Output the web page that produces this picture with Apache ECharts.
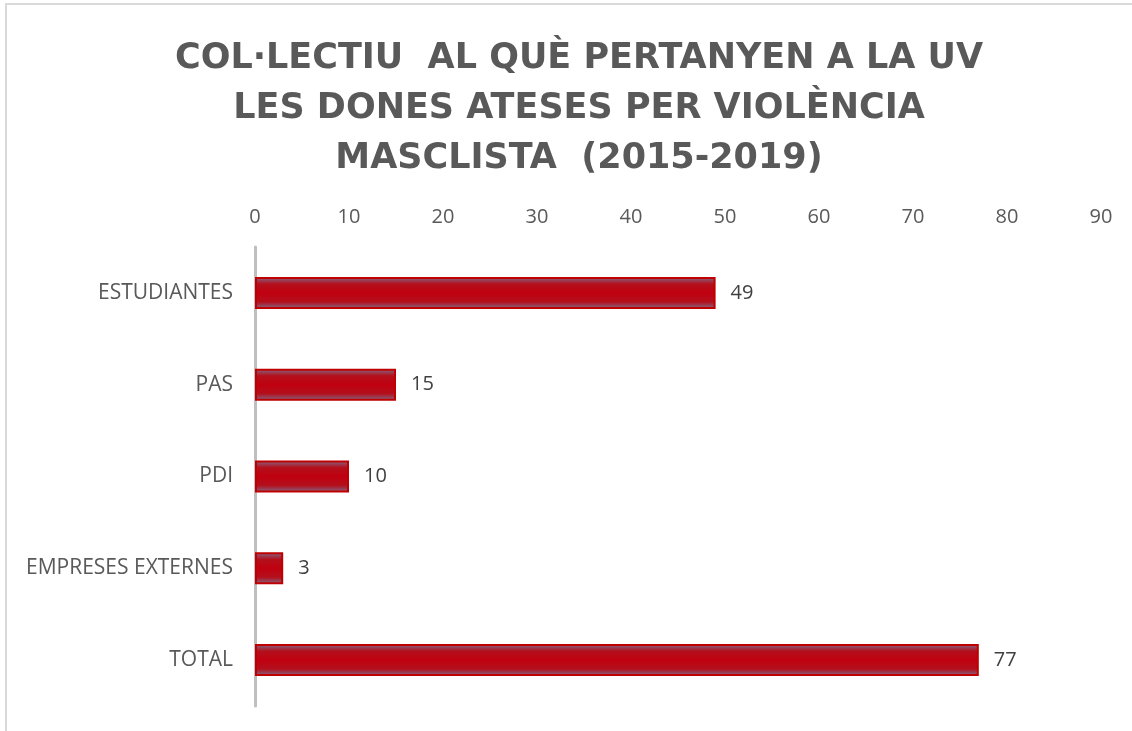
<!DOCTYPE html>
<html>
<head>
<meta charset="utf-8">
<script src="https://cdn.jsdelivr.net/npm/echarts@6/dist/echarts.min.js"></script>
<style>
  html, body { margin: 0; padding: 0; background: #fff; }
  #chart { width: 1132px; height: 731px; }
</style>
</head>
<body>
<div id="chart"></div>
<script>
  // data
  var titleLines = ['COL·LECTIU  AL QUÈ PERTANYEN A LA UV', 'LES DONES ATESES PER VIOLÈNCIA', 'MASCLISTA  (2015-2019)'];
  var categories = ['ESTUDIANTES', 'PAS', 'PDI', 'EMPRESES EXTERNES', 'TOTAL'];
  var values = [49, 15, 10, 3, 77];
  var xMax = 90;
  var xStep = 10;

  var chart = echarts.init(document.getElementById('chart'));

  var barFill = new echarts.graphic.LinearGradient(0, 0, 0, 1, [
    {offset: 0, color: '#7d6e8e'},
    {offset: 0.22, color: '#b3101c'},
    {offset: 0.5, color: '#c00010'},
    {offset: 0.78, color: '#b3101c'},
    {offset: 1, color: '#7d6e8e'}
  ]);

  var option = {
    animation: false,
    backgroundColor: '#fff',
    graphic: [{
      type: 'rect',
      shape: {x: 6, y: 4, width: 1140, height: 740},
      style: {fill: 'none', stroke: '#d9d9d9', lineWidth: 2},
      silent: true
    }],
    title: {
      text: titleLines.join('\n'),
      left: 574,
      top: 29,
      textAlign: 'center',
      textStyle: {
        fontFamily: 'DejaVu Sans',
        fontWeight: 'bold',
        fontSize: 35,
        lineHeight: 50,
        color: '#595959'
      }
    },
    grid: {
      left: 255,
      top: 247,
      width: 846,
      height: 459,
      containLabel: false
    },
    xAxis: {
      type: 'value',
      position: 'top',
      min: 0,
      max: xMax,
      interval: xStep,
      axisLine: {show: false},
      axisTick: {show: false},
      splitLine: {show: false},
      axisLabel: {
        margin: 20,
        fontFamily: 'Open Sans',
        fontSize: 20,
        color: '#595959'
      }
    },
    yAxis: {
      type: 'category',
      inverse: true,
      data: categories,
      axisLine: {show: true, lineStyle: {color: '#bfbfbf', width: 3}},
      axisTick: {show: false},
      axisLabel: {
        margin: 22,
        fontFamily: 'Open Sans',
        fontSize: 21,
        color: '#595959'
      }
    },
    series: [{
      type: 'bar',
      data: values,
      barWidth: 32,
      itemStyle: {
        color: barFill,
        borderColor: '#c00000',
        borderWidth: 2
      },
      label: {
        show: true,
        position: 'right',
        distance: 15,
        fontFamily: 'Open Sans',
        fontSize: 20,
        color: '#404040'
      }
    }]
  };

  chart.setOption(option);
</script>
</body>
</html>
